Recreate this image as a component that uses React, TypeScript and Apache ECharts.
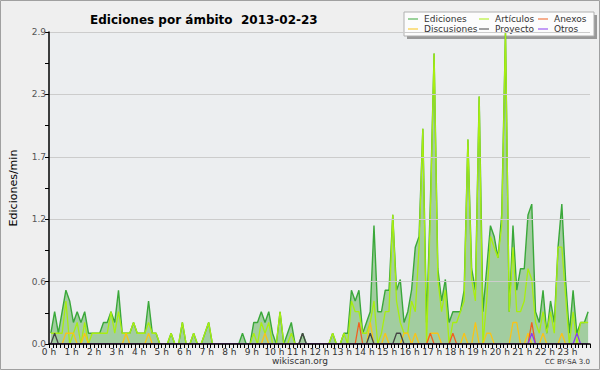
import React, { useEffect, useRef } from "react";
import * as echarts from "echarts";

// 10-minute slots, 144 per day (edits per minute)
const HOUR_LABELS = Array.from({ length: 24 }, (_, h) => `${h} h`);

const ediciones = [
  0.1, 0.3, 0.1, 0.3, 0.5, 0.4,
  0.2, 0.3, 0.2, 0.3, 0.1, 0.1,
  0.1, 0.1, 0.2, 0.2, 0.3, 0.2,
  0.5, 0.1, 0.1, 0.1, 0.2, 0.1,
  0.1, 0.1, 0.4, 0.1, 0.1, 0,
  0, 0, 0.1, 0, 0, 0.2,
  0, 0, 0.1, 0, 0, 0.1,
  0.2, 0, 0, 0, 0, 0,
  0, 0, 0, 0.1, 0, 0,
  0.2, 0.2, 0.3, 0.2, 0.3, 0.1,
  0, 0.3, 0, 0.1, 0.2, 0,
  0, 0.1, 0, 0, 0, 0,
  0, 0, 0, 0.1, 0, 0,
  0.1, 0.1, 0.5, 0.4, 0.5, 0.1,
  0.2, 0.3, 1.1, 0.3, 0.3, 0.5,
  0.5, 1.2, 0.5, 0.6, 0.2, 0.3,
  0.5, 0.9, 1.0, 2.0, 0.2, 1.3,
  2.7, 0.7, 0.4, 0.6, 0.2, 0.3,
  0.3, 0.3, 0.5, 1.9, 0.7, 0.5,
  2.3, 0.3, 0.7, 1.1, 1.0, 0.8,
  1.2, 2.9, 0.3, 1.1, 0.5, 0.7,
  0.7, 1.2, 1.3, 0.3, 0.2, 0.5,
  0.1, 0.4, 0.2, 0.9, 1.3, 0.6,
  0.1, 0.5, 0.1, 0.2, 0.2, 0.3,
];

const articulos = [
  0.1, 0.1, 0.1, 0.1, 0.4, 0,
  0.1, 0.2, 0, 0.2, 0, 0.1,
  0.1, 0.1, 0.1, 0.1, 0.3, 0.1,
  0.3, 0.1, 0.1, 0.1, 0.2, 0.1,
  0.1, 0.1, 0.2, 0.1, 0.1, 0,
  0, 0, 0.1, 0, 0, 0.2,
  0, 0, 0.1, 0, 0, 0.1,
  0.2, 0, 0, 0, 0, 0,
  0, 0, 0, 0, 0, 0,
  0.1, 0, 0.2, 0.1, 0.2, 0,
  0, 0.3, 0, 0, 0.1, 0,
  0, 0, 0, 0, 0, 0,
  0, 0, 0, 0.1, 0, 0,
  0.1, 0, 0.4, 0.3, 0.3, 0.1,
  0.1, 0.2, 0.4, 0, 0.1, 0.3,
  0.3, 1.2, 0.4, 0.2, 0.1, 0.1,
  0.4, 0.3, 0.9, 2.0, 0, 1.2,
  2.7, 0.6, 0.3, 0.5, 0, 0.2,
  0.2, 0.3, 0.4, 1.9, 0.6, 0.4,
  2.3, 0, 0.4, 1.0, 0.9, 0.8,
  1.1, 2.9, 0.3, 0.9, 0.3, 0.3,
  0.4, 0.7, 0.6, 0.2, 0.1, 0.3,
  0.1, 0.3, 0.1, 0.9, 0.9, 0.45,
  0, 0.3, 0, 0.2, 0.2, 0.2,
];

const discusiones = [
  0, 0, 0, 0, 0.1, 0.1,
  0.1, 0, 0, 0.1, 0, 0,
  0, 0, 0, 0, 0, 0,
  0, 0, 0.1, 0, 0, 0,
  0, 0, 0.1, 0, 0, 0,
  0, 0, 0, 0, 0, 0,
  0, 0, 0, 0, 0, 0,
  0, 0, 0, 0, 0, 0,
  0, 0, 0, 0, 0, 0,
  0, 0, 0, 0.1, 0, 0,
  0, 0, 0, 0, 0, 0,
  0, 0, 0, 0, 0, 0,
  0, 0, 0, 0, 0, 0,
  0, 0, 0, 0, 0, 0,
  0, 0.2, 0, 0, 0, 0.1,
  0, 0, 0, 0, 0.1, 0.1,
  0, 0.1, 0, 0, 0, 0.1,
  0.1, 0.1, 0, 0, 0, 0,
  0, 0, 0.1, 0, 0, 0.2,
  0, 0, 0.1, 0.1, 0, 0,
  0, 0, 0, 0.2, 0.2, 0,
  0, 0.1, 0, 0, 0, 0.1,
  0, 0, 0, 0, 0.1, 0,
  0, 0, 0, 0, 0, 0,
];

const anexos = [
  0, 0, 0, 0, 0, 0, 0, 0, 0, 0, 0, 0,
  0, 0, 0, 0, 0, 0, 0, 0, 0, 0, 0, 0,
  0, 0, 0, 0, 0, 0, 0, 0, 0, 0, 0, 0,
  0, 0, 0, 0, 0, 0, 0, 0, 0, 0, 0, 0,
  0, 0, 0, 0, 0, 0, 0, 0, 0, 0, 0, 0,
  0, 0, 0, 0, 0, 0, 0, 0, 0, 0, 0, 0,
  0, 0, 0, 0, 0, 0, 0, 0, 0, 0, 0.2, 0,
  0, 0, 0, 0, 0, 0, 0, 0, 0, 0, 0, 0,
  0, 0, 0, 0, 0, 0.1, 0, 0, 0, 0, 0, 0.1,
  0, 0, 0, 0, 0, 0, 0, 0, 0, 0, 0, 0,
  0, 0, 0, 0, 0, 0, 0, 0, 0.2, 0, 0, 0,
  0, 0, 0, 0, 0, 0, 0, 0, 0, 0, 0, 0,
];

const proyecto = [
  0, 0.1, 0, 0, 0, 0, 0, 0, 0, 0, 0, 0,
  0, 0, 0, 0, 0, 0, 0, 0, 0, 0, 0, 0,
  0, 0, 0, 0, 0, 0, 0, 0, 0, 0, 0, 0,
  0, 0, 0, 0, 0, 0, 0, 0, 0, 0, 0, 0,
  0, 0, 0, 0, 0, 0, 0, 0, 0, 0, 0, 0,
  0, 0, 0, 0, 0, 0, 0, 0.1, 0, 0, 0, 0,
  0, 0, 0, 0, 0, 0, 0, 0, 0, 0, 0, 0,
  0, 0.1, 0, 0, 0, 0, 0, 0, 0.1, 0.1, 0, 0,
  0, 0, 0, 0, 0, 0, 0, 0, 0, 0, 0, 0,
  0, 0, 0, 0, 0, 0, 0, 0, 0, 0, 0, 0,
  0, 0, 0, 0, 0, 0, 0, 0, 0, 0, 0, 0,
  0, 0, 0, 0, 0, 0, 0, 0, 0, 0, 0, 0,
];

const otros = [
  0, 0, 0, 0, 0, 0, 0, 0, 0, 0, 0, 0,
  0, 0, 0, 0, 0, 0, 0, 0, 0, 0, 0, 0,
  0, 0, 0, 0, 0, 0, 0, 0, 0, 0, 0, 0,
  0, 0, 0, 0, 0, 0, 0, 0, 0, 0, 0, 0,
  0, 0, 0, 0, 0, 0, 0, 0, 0, 0, 0, 0,
  0, 0, 0, 0, 0, 0, 0, 0, 0, 0, 0, 0,
  0, 0, 0, 0, 0, 0, 0, 0, 0, 0, 0, 0,
  0, 0, 0, 0, 0, 0, 0, 0, 0, 0, 0, 0,
  0, 0, 0, 0, 0, 0, 0, 0, 0, 0, 0, 0,
  0, 0, 0, 0, 0, 0, 0, 0, 0, 0, 0, 0,
  0, 0, 0, 0, 0, 0, 0, 0, 0.1, 0, 0, 0,
  0, 0, 0, 0, 0, 0, 0, 0, 0.1, 0, 0, 0,
];

const SERIES = [
  { name: "Ediciones", data: ediciones, color: "#3aa83a" },
  { name: "Artículos", data: articulos, color: "#a8ee10" },
  { name: "Discusiones", data: discusiones, color: "#f8c418" },
  { name: "Proyecto", data: proyecto, color: "#444444" },
  { name: "Anexos", data: anexos, color: "#f06020" },
  { name: "Otros", data: otros, color: "#8a3cf0" },
];

const Y_MAX = 2.9;
const FONT = "DejaVu Sans";

function toPoints(values: number[]) {
  return values.map((v, i) => [(i + 0.5) / 6, v]);
}

export default function App() {
  const ref = useRef<HTMLDivElement>(null);

  useEffect(() => {
    document.body.style.margin = "0";
    if (!ref.current) return;
    const chart = echarts.init(ref.current, undefined, { renderer: "svg" });

    const legendOrder = [
      ["Ediciones", 408, 19],
      ["Artículos", 479, 19],
      ["Anexos", 538, 19],
      ["Discusiones", 408, 29],
      ["Proyecto", 479, 29],
      ["Otros", 538, 29],
    ] as const;
    const legendEls: any[] = [
      { type: "rect", shape: { x: 407, y: 15, width: 190, height: 24 }, style: { fill: "#999" }, silent: true },
      { type: "rect", shape: { x: 404, y: 12, width: 190, height: 24 }, style: { fill: "#fcfcfc", stroke: "#b0b0b0", lineWidth: 1 }, silent: true },
    ];
    legendOrder.forEach(([name, x, y]) => {
      const s = SERIES.find((q) => q.name === name)!;
      legendEls.push({
        type: "line",
        shape: { x1: x, y1: y, x2: x + 10, y2: y },
        style: { stroke: s.color, lineWidth: 1 },
        silent: true,
      });
      legendEls.push({
        type: "text",
        x: x + 16,
        y: y,
        style: { text: name, fill: "#333", font: `9px '${FONT}'`, textVerticalAlign: "middle" },
        silent: true,
      });
    });

    const series: any[] = SERIES.map((s, idx) => ({
      name: s.name,
      type: "line",
      data: toPoints(s.data),
      showSymbol: false,
      symbol: "none",
      smooth: false,
      lineStyle: { color: s.color, width: idx === 0 ? 1.4 : 1.3 },
      itemStyle: { color: s.color },
      areaStyle: idx === 0 ? { color: "#a2cda0", opacity: 1 } : undefined,
      z: 2 + idx,
    }));

    chart.setOption({
      animation: false,
      backgroundColor: "#efefef",
      title: {
        text: "Ediciones por ámbito  2013-02-23",
        left: 85,
        top: 9,
        textStyle: { fontSize: 12, fontWeight: "bold", color: "#000", fontFamily: FONT },
      },
      grid: {
        left: 44,
        right: 10,
        top: 32,
        bottom: 26,
        show: true,
        backgroundColor: "#eceef0",
        borderWidth: 0,
      },
      xAxis: {
        type: "value",
        min: 0,
        max: 24,
        interval: 1,
        z: 10,
        axisLine: { show: true, onZero: false, lineStyle: { color: "#000", width: 1.5 } },
        axisTick: { show: true, length: 4, lineStyle: { color: "#000" } },
        minorTick: { show: true, splitNumber: 6, length: 4, lineStyle: { color: "#000" } },
        splitLine: { show: false },
        axisLabel: {
          color: "#333",
          fontSize: 9,
          fontFamily: FONT,
          margin: 3,
          formatter: (v: number) => (v < 24 ? HOUR_LABELS[v] : ""),
        },
      },
      yAxis: {
        type: "value",
        min: 0,
        max: Y_MAX,
        interval: Y_MAX / 5,
        z: 10,
        name: "Ediciones/min",
        nameLocation: "middle",
        nameGap: 30,
        nameRotate: 90,
        nameTextStyle: { fontSize: 11, color: "#000", fontFamily: FONT },
        axisLine: { show: true, lineStyle: { color: "#000", width: 1.5 } },
        axisTick: { show: true, length: 4, lineStyle: { color: "#000" } },
        minorTick: { show: true, splitNumber: 2, length: 4, lineStyle: { color: "#000" } },
        splitLine: { show: true, lineStyle: { color: "#cccccc", width: 1 } },
        axisLabel: {
          color: "#555",
          fontSize: 9,
          fontFamily: FONT,
          margin: 3,
          formatter: (v: number) => v.toFixed(1),
        },
      },
      series,
      graphic: [
        ...legendEls,
        {
          type: "text",
          x: 300,
          y: 361,
          style: { text: "wikiscan.org", fill: "#333", font: `9px '${FONT}'`, textAlign: "center", textVerticalAlign: "middle" },
          silent: true,
        },
        {
          type: "text",
          x: 590,
          y: 362,
          style: { text: "CC BY-SA 3.0", fill: "#333", font: `7px '${FONT}'`, textAlign: "right", textVerticalAlign: "middle" },
          silent: true,
        },
        {
          type: "rect",
          shape: { x: 0.5, y: 0.5, width: 599, height: 369 },
          style: { fill: "none", stroke: "#a0a0a0", lineWidth: 1 },
          silent: true,
        },
      ],
    });

    return () => chart.dispose();
  }, []);

  return <div ref={ref} style={{ width: 600, height: 370 }} />;
}
